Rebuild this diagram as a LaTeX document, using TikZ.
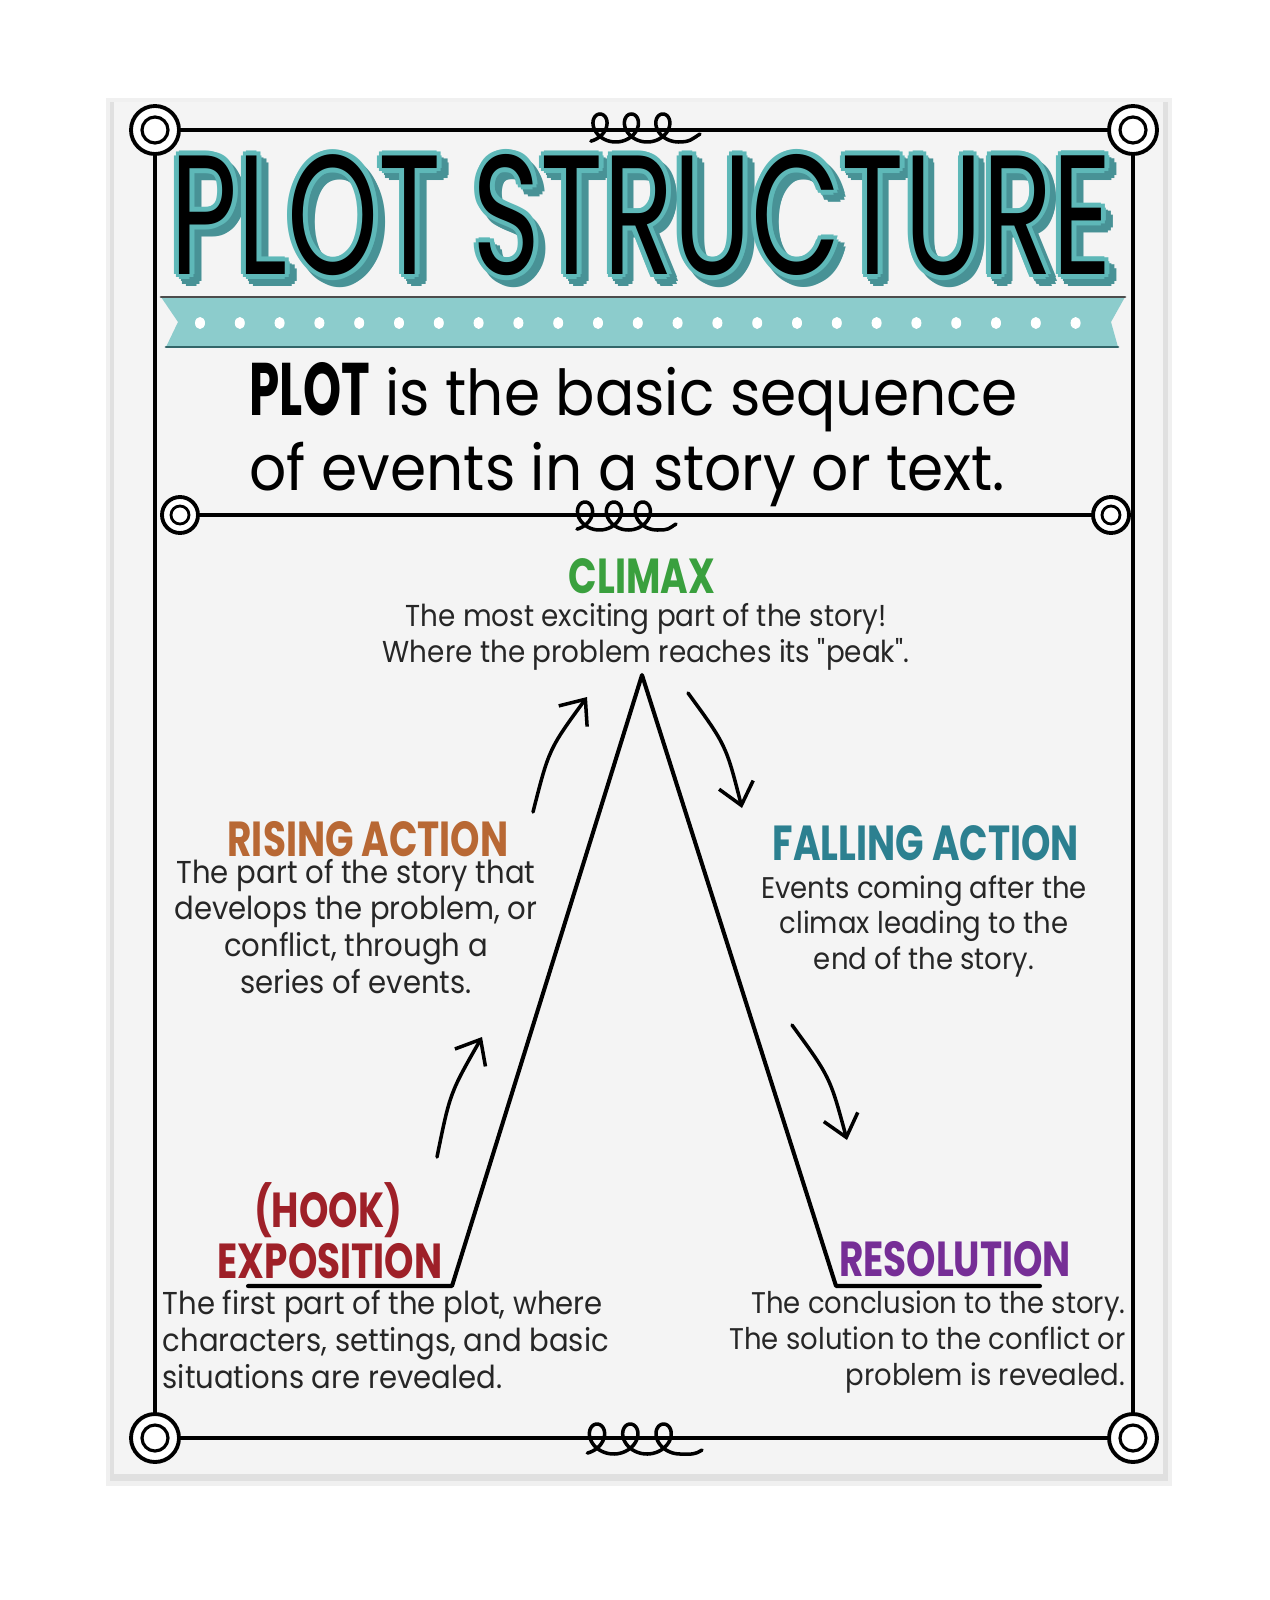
\documentclass[tikz,border=0pt]{standalone}
\usepackage{fontspec}
\usepackage{graphicx}
\setmainfont{Poppins}
\newfontfamily\bodyfont{Poppins}[FakeStretch=0.92]
\newfontfamily\headfont{Poppins}[FakeStretch=0.76]
\usetikzlibrary{arrows.meta,calc}

\definecolor{titleteal}{RGB}{94,184,184}
\definecolor{shadeteal}{RGB}{72,146,150}
\definecolor{bannerteal}{RGB}{140,204,204}
\definecolor{climaxgreen}{RGB}{58,160,62}
\definecolor{risingbrown}{RGB}{184,104,52}
\definecolor{fallingteal}{RGB}{44,128,144}
\definecolor{expored}{RGB}{158,32,40}
\definecolor{resolpurple}{RGB}{118,46,150}
\definecolor{paper}{RGB}{244,244,244}

\newcommand{\titletext}{\resizebox{9.41cm}{1.2cm}{\headfont PLOT STRUCTURE}}

\begin{document}
\begin{tikzpicture}[x=0.01cm, y=-0.01cm, >={Straight Barb[length=6pt,width=10pt]},
    line cap=round, line join=round, every node/.style={inner sep=0pt},
    body/.style={font=\bodyfont\fontsize{9}{10.4}\selectfont, text=black!85},
    heading/.style={font=\headfont\bfseries\fontsize{14}{16}\selectfont},
    frameline/.style={line width=1.1pt},
    ring/.style={line width=1.1pt, fill=white},
    curve/.style={line width=1pt}]
		% 1. Page, shadow and poster
		\useasboundingbox (0,0) rectangle (1269,1600);
		\fill[white] (0,0) rectangle (1269,1600);
		\fill[black!6] (106,98) rectangle (1172,1486);
		\fill[black!12] (110,102) rectangle (1168,1481);
		\fill[paper] (114,102) rectangle (1163,1474);

		% 2. Frame, middle rule and the little curls
		\draw[frameline] (155,130) rectangle (1133,1438);
		\draw[line width=1pt] (180,515) -- (1111,515);
		\foreach \xo/\yc/\a/\b/\ex/\ey in {600/128/5/14/700/134, 585/516/4.6/14/676/524, 597/1439/5.3/15/702/1450}
			\draw[line width=1pt] plot[domain=-160:900, samples=140, variable=\t]
				({\xo+\a*rad(\t)-\b*sin(\t)}, {\yc-\b*cos(\t)})
				.. controls +(12,0) and +(-8,5) .. (\ex,\ey);

		% 3. Corner circles
		\foreach \p in {(155,130),(1133,130),(155,1438),(1133,1438)} {
			\draw[ring] \p circle (24);
			\draw[line width=0.9pt] \p circle (13);
		}
		\foreach \p in {(180,515),(1111,515)} {
			\draw[ring] \p circle (18);
			\draw[line width=0.8pt] \p circle (9);
		}

		% 4. Title with teal outline and shadow
		\foreach \ang in {0,45,...,315}
			\node[text=shadeteal] at ($(648,222)+(\ang:5)$) {\titletext};
		\foreach \ang in {0,45,...,315}
			\node[text=titleteal] at ($(641.5,215)+(\ang:5)$) {\titletext};
		\node (title) at (641.5,215) {\titletext};

		% 5. Ribbon banner with dots
		\fill[bannerteal] (161,297) -- (1125,297) -- (1111,322) -- (1118,347)
			-- (166,347) -- (178,322) -- cycle;
		\draw[black!70, line width=0.8pt] (161,297) -- (1125,297);
		\draw[shadeteal!70!black, line width=0.8pt] (166,347) -- (1118,347);
		\foreach \i in {0,...,22}
			\fill[white] (200+\i*39.8,323) ellipse (5 and 6);

		% 6. Definition (base = last line)
		\node[anchor=base west, align=left, font=\bodyfont\fontsize{18}{21.3}\selectfont] (def)
			at (249,490) {\resizebox{1.2cm}{0.53cm}{\headfont\bfseries PLOT} is the basic sequence\\of events in a story or text.};

		% 7. The plot mountain
		\coordinate (expoL) at (248,1286);
		\coordinate (expoR) at (452,1286);
		\coordinate (peak) at (642,675);
		\coordinate (resolL) at (836,1286);
		\coordinate (resolR) at (1040,1286);
		\draw[line width=1.15pt] (expoL) -- (expoR) -- (peak) -- (resolL) -- (resolR);

		% 8. Arrows along the sides
		\coordinate (ra1) at (437,1157); \coordinate (ra2) at (482,1037);
		\coordinate (ra3) at (533,812);  \coordinate (ra4) at (587,697);
		\coordinate (fa1) at (688,693);  \coordinate (fa2) at (742,808);
		\coordinate (fa3) at (792,1025); \coordinate (fa4) at (847,1140);
		\draw[->, curve] (ra1) .. controls (450,1093) .. (ra2);
		\draw[->, curve] (ra3) .. controls (549,749) .. (ra4);
		\draw[->, curve] (fa1) .. controls (726,745) .. (fa2);
		\draw[->, curve] (fa3) .. controls (830,1077) .. (fa4);

		% 9. Climax
		\node[heading, text=climaxgreen, anchor=base] (climax) at (642,593) {CLIMAX};
		\node[body, align=center, anchor=base, font=\bodyfont\fontsize{8.6}{8.5}\selectfont] (climaxtxt)
			at (646,662) {The most exciting part of the story!\\Where the problem reaches its "peak".};

		% 10. Rising action
		\node[heading, text=risingbrown, anchor=base] (rising) at (368,856) {RISING ACTION};
		\node[body, align=center, anchor=base] (risingtxt) at (356,993)
			{The part of the story that\\develops the problem, or\\conflict, through a\\series of events.};

		% 11. Falling action
		\node[heading, text=fallingteal, anchor=base] (falling) at (926,860) {FALLING ACTION};
		\node[body, align=center, anchor=base, font=\bodyfont\fontsize{8.5}{10}\selectfont] (fallingtxt)
			at (924,969) {Events coming after the\\climax leading to the\\end of the story.};

		% 12. Exposition
		\node[heading, text=expored, anchor=base] (hook) at (328,1227) {(HOOK)};
		\node[heading, text=expored, anchor=base] (expo) at (330,1278) {EXPOSITION};
		\node[body, align=left, anchor=base west] (expotxt) at (162,1388)
			{The first part of the plot, where\\characters, settings, and basic\\situations are revealed.};

		% 13. Resolution
		\node[heading, text=resolpurple, anchor=base] (resol) at (955,1276) {RESOLUTION};
		\node[body, align=right, anchor=base east, font=\bodyfont\fontsize{8.5}{10.2}\selectfont] (resoltxt)
			at (1126,1385) {The conclusion to the story.\\The solution to the conflict or\\problem is revealed.};
\end{tikzpicture}
\end{document}
